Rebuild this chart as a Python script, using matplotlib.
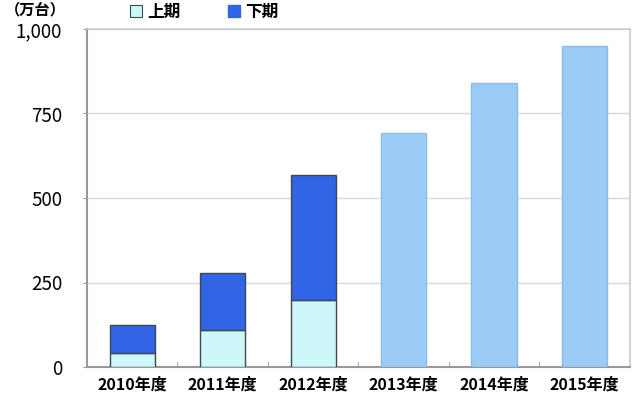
import matplotlib
matplotlib.use("Agg")
import matplotlib.pyplot as plt
from matplotlib.patches import Patch

plt.rcParams['font.family'] = ['Noto Sans CJK JP', 'DejaVu Sans']

categories = ["2010年度", "2011年度", "2012年度", "2013年度", "2014年度", "2015年度"]
first_half = [42, 108, 198]       # 上期
second_half = [82, 170, 370]      # 下期
forecast = [692, 840, 950]        # 2013-2015 totals
yticks = [0, 250, 500, 750, 1000]
ytick_labels = ["0", "250", "500", "750", "1,000"]

c_first = "#cdf7f9"
c_second = "#3264e6"
c_fore = "#9dcbf7"
edge = "#3a4a55"

fig = plt.figure(figsize=(6.4, 4.0), dpi=100)
ax = fig.add_axes([0.136, 0.0825, 0.848, 0.845])

xs = list(range(len(categories)))
n = len(first_half)
ax.bar(xs[:n], first_half, width=0.5, color=c_first, edgecolor=edge, linewidth=1.0, zorder=3)
ax.bar(xs[:n], second_half, width=0.5, bottom=first_half, color=c_second, edgecolor=edge, linewidth=1.0, zorder=3)
ax.bar(xs[n:], forecast, width=0.5, color=c_fore, edgecolor="#8dbbe8", linewidth=1.0, zorder=3)

ax.set_xlim(-0.5, len(categories) - 0.5)
ax.set_ylim(0, 1000)
ax.set_yticks(yticks)
ax.set_yticklabels(ytick_labels, fontsize=13.5)
ax.set_xticks(xs)
ax.set_xticklabels(categories, fontsize=11.5, fontweight='bold')
ax.tick_params(axis='x', length=0, pad=7)
ax.tick_params(axis='y', length=3, direction='out', color='#999999', pad=15)
ax.set_xticks([x + 0.5 for x in xs[:-1]], minor=True)
ax.tick_params(axis='x', which='minor', length=4, direction='in', color='#999999')

ax.grid(axis='y', color='#d9d9d9', linewidth=1.0, zorder=0)
ax.set_axisbelow(True)
for s in ['top', 'right']:
    ax.spines[s].set_color('#cccccc')
    ax.spines[s].set_linewidth(1.2)
for s in ['left', 'bottom']:
    ax.spines[s].set_color('#999999')
    ax.spines[s].set_linewidth(1.5)

handles = [Patch(facecolor=c_first, edgecolor=edge, linewidth=0.8, label="上期"),
           Patch(facecolor=c_second, edgecolor=c_second, label="下期")]
fig.legend(handles=handles, loc='upper left', bbox_to_anchor=(0.18, 1.03), ncol=2,
           frameon=False, handlelength=0.7, handleheight=0.7, handletextpad=0.3,
           columnspacing=2.9, prop={'size': 12, 'weight': 'bold'})

fig.text(0.008, 0.997, "（万台）", fontsize=11, fontweight='bold', va='top', ha='left')

fig.savefig("out.png", dpi=100)
